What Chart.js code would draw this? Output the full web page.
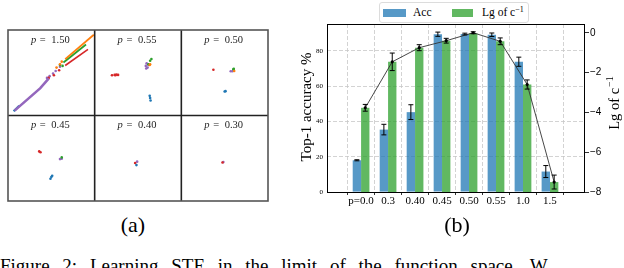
<!DOCTYPE html>
<html>
<head>
<meta charset="utf-8">
<script src="https://cdn.jsdelivr.net/npm/chart.js@4.4.0/dist/chart.umd.min.js"></script>
<style>
  body { margin: 0; width: 624px; height: 268px; overflow: hidden; position: relative; background: #fff; font-family: "Liberation Serif", serif; color: #000; }
  #scatterWrap { position: absolute; left: 4px; top: 26px; width: 268px; height: 179px; }
  #barWrap { position: absolute; left: 300px; top: 0; width: 324px; height: 215px; }
  .sub { position: absolute; top: 214px; font-size: 22px; line-height: 22px; width: 60px; text-align: center; }
  #legend { position: absolute; left: 379px; top: 2px; width: 148px; height: 19px; border: 1px solid #dcdcdc; border-radius: 3px; background: #fff; font-size: 11.5px; }
  #legend .sw { position: absolute; top: 6px; height: 8px; }
  #legend .tx { position: absolute; top: 2px; line-height: 14px; }
  #legend sup { font-size: 8px; vertical-align: 4px; line-height: 0; }
  #caption { position: absolute; left: 0; top: 256px; font-size: 19px; line-height: 19px; white-space: nowrap; word-spacing: 8px; }
</style>
</head>
<body>
<div id="scatterWrap"><canvas id="scatterChart"></canvas></div>
<div id="barWrap"><canvas id="accChart"></canvas></div>
<div id="legend">
  <span class="sw" style="left:3px;width:23px;background:rgba(31,119,180,0.75)"></span>
  <span class="tx" style="left:33px">Acc</span>
  <span class="sw" style="left:72px;width:21px;background:rgba(44,160,44,0.75)"></span>
  <span class="tx" style="left:102px">Lg of c<sup>&minus;1</sup></span>
</div>
<div class="sub" style="left:103px">(a)</div>
<div class="sub" style="left:427px">(b)</div>
<div id="caption">Figure 2: Learning STE in the limit of the function space. W</div>

<script>
// --- panel (a): six small scatter cells, [cell, x, y] with x,y inside the cell (0..1) ---
const pLabels = ["1.50", "0.55", "0.50", "0.45", "0.40", "0.30"];

const bluePts = [[1, 0.635, 0.23], [1, 0.64, 0.205], [1, 0.645, 0.175], [2, 0.50, 0.28], [2, 0.51, 0.285],
  [3, 0.49, 0.26], [3, 0.50, 0.28], [3, 0.51, 0.295], [4, 0.482, 0.42]];
const orangePts = [[0, 0.60, 0.60], [0, 0.56, 0.56], [0, 0.62, 0.63], [1, 0.635, 0.59], [1, 0.64, 0.60], [2, 0.61, 0.52]];
const greenPts = [[0, 0.63, 0.58], [0, 0.60, 0.59], [1, 0.62, 0.60], [1, 0.64, 0.64], [1, 0.655, 0.66],
  [2, 0.60, 0.54], [2, 0.605, 0.545], [3, 0.62, 0.51]];
const redPts = [[0, 0.53, 0.47], [0, 0.59, 0.53], [0, 0.47, 0.44], [1, 0.20, 0.47], [1, 0.23, 0.475], [1, 0.25, 0.48],
  [1, 0.27, 0.475], [1, 0.24, 0.47], [2, 0.37, 0.535], [3, 0.36, 0.58], [3, 0.375, 0.57], [4, 0.467, 0.445], [5, 0.475, 0.45]];
const purplePts = [[0, 0.48, 0.46], [0, 0.52, 0.49], [0, 0.55, 0.52], [0, 0.60, 0.57], [0, 0.45, 0.44],
  [1, 0.59, 0.58], [1, 0.60, 0.61], [1, 0.61, 0.56], [1, 0.62, 0.59], [1, 0.595, 0.55],
  [2, 0.57, 0.517], [2, 0.59, 0.517], [3, 0.60, 0.49], [3, 0.62, 0.495], [4, 0.49, 0.46], [5, 0.485, 0.455]];

// trails in the p = 1.50 cell
const purpleTrail = [[0.076, 0.057], [0.373, 0.32], [0.471, 0.434]];
const blueTrail = [[0.065, 0.05], [0.13, 0.115]];
const orangeTrail = [[0.66, 0.66], [0.99, 0.945]];
const greenTrail = [[0.64, 0.62], [0.90, 0.83]];
const redTrail = [[0.66, 0.585], [0.923, 0.774]];

// --- panel (b): accuracy bars and Lg of c^-1 ---
const categories = ["p=0.0", "0.3", "0.40", "0.45", "0.50", "0.55", "1.0", "1.5"];
const accMean = [18.0, 35.4, 45.3, 89.5, 89.6, 89.2, 73.9, 11.6];
const accErr = [0.3, 3.0, 4.2, 1.2, 0.5, 1.0, 2.6, 3.4];
const lgMean = [-3.77, -1.46, -0.75, -0.40, 0.0, -0.43, -2.60, -7.5];
const lgErr = [0.17, 0.44, 0.15, 0.12, 0.05, 0.17, 0.23, 0.35];
const accTicks = [0, 20, 40, 60, 80];
const lgTicks = [-8, -6, -4, -2, 0];

const tab = {
  blue: '#1f77b4', orange: '#ff7f0e', green: '#2ca02c', red: '#d62728', purple: '#9467bd'
};

function cellXY(cell, nx, ny) {
  return { x: (cell % 3) + nx, y: 1 - Math.floor(cell / 3) + ny };
}

function dotSet(pts, color) {
  return {
    data: pts.map(p => cellXY(p[0], p[1], p[2])),
    backgroundColor: color,
    borderWidth: 0,
    pointRadius: 1.3
  };
}

function trailSet(pts, color, width) {
  return {
    data: pts.map(p => cellXY(0, p[0], p[1])),
    borderColor: color,
    borderWidth: width,
    showLine: true,
    pointRadius: 0
  };
}

const cellFrame = {
  id: 'cellFrame',
  afterDraw(chart) {
    const { ctx, scales: { x, y } } = chart;
    ctx.save();
    ctx.lineWidth = 1.6;
    ctx.strokeStyle = '#222';
    ctx.beginPath();
    [1, 2].forEach(v => { ctx.moveTo(x.getPixelForValue(v), y.getPixelForValue(0)); ctx.lineTo(x.getPixelForValue(v), y.getPixelForValue(2)); });
    ctx.moveTo(x.getPixelForValue(0), y.getPixelForValue(1));
    ctx.lineTo(x.getPixelForValue(3), y.getPixelForValue(1));
    ctx.stroke();
    ctx.strokeStyle = '#555';
    ctx.strokeRect(x.getPixelForValue(0), y.getPixelForValue(2),
      x.getPixelForValue(3) - x.getPixelForValue(0), y.getPixelForValue(0) - y.getPixelForValue(2));

    // cell titles "p = ..."
    ctx.fillStyle = '#222';
    ctx.textBaseline = 'alphabetic';
    pLabels.forEach((lab, k) => {
      const col = k % 3, row = Math.floor(k / 3);
      const cx = x.getPixelForValue(col + 0.5) - 1;
      const by = y.getPixelForValue(2 - row) + 12.5;
      const rest = ' = ' + lab;
      ctx.font = 'italic 10.5px "Liberation Serif"';
      const w1 = ctx.measureText('p').width;
      ctx.font = '10.5px "Liberation Serif"';
      const w2 = ctx.measureText(rest).width + 4;
      const x0 = cx - (w1 + w2) / 2;
      ctx.font = 'italic 10.5px "Liberation Serif"';
      ctx.fillText('p', x0, by);
      ctx.font = '10.5px "Liberation Serif"';
      ctx.fillText(' =', x0 + w1 + 1, by);
      ctx.fillText(lab, x0 + w1 + 4 + ctx.measureText(' = ').width, by);
    });
    ctx.restore();
  }
};

new Chart(document.getElementById('scatterChart'), {
  type: 'scatter',
  data: {
    datasets: [
      trailSet(purpleTrail, tab.purple, 2.6),
      trailSet(blueTrail, tab.blue, 2.2),
      trailSet(orangeTrail, tab.orange, 1.8),
      trailSet(greenTrail, tab.green, 1.8),
      trailSet(redTrail, tab.red, 1.6),
      dotSet(bluePts, tab.blue),
      dotSet(orangePts, tab.orange),
      dotSet(greenPts, tab.green),
      dotSet(redPts, tab.red),
      dotSet(purplePts, tab.purple)
    ]
  },
  options: {
    responsive: true,
    maintainAspectRatio: false,
    animation: false,
    events: [],
    layout: { padding: 1 },
    plugins: { legend: { display: false }, tooltip: { enabled: false } },
    scales: {
      x: { type: 'linear', min: 0, max: 3, display: false },
      y: { type: 'linear', min: 0, max: 2, display: false }
    }
  },
  plugins: [cellFrame]
});

// --- bar chart ---
const groupFrac = 0.62;
const lineShift = groupFrac / 4;

const errorBars = {
  id: 'errorBars',
  afterDatasetsDraw(chart) {
    const ctx = chart.ctx;
    ctx.save();
    ctx.strokeStyle = '#000';
    ctx.lineWidth = 1;
    [[0, 'y', accMean, accErr], [1, 'y2', lgMean, lgErr]].forEach(([di, axis, means, errs]) => {
      const sc = chart.scales[axis];
      chart.getDatasetMeta(di).data.forEach((bar, i) => {
        const x = bar.x;
        const lo = sc.getPixelForValue(means[i] - errs[i]);
        const hi = sc.getPixelForValue(means[i] + errs[i]);
        ctx.beginPath();
        ctx.moveTo(x, lo); ctx.lineTo(x, hi);
        ctx.moveTo(x - 2.5, lo); ctx.lineTo(x + 2.5, lo);
        ctx.moveTo(x - 2.5, hi); ctx.lineTo(x + 2.5, hi);
        ctx.stroke();
      });
    });
    ctx.restore();
  }
};

const frameAndTitles = {
  id: 'frameAndTitles',
  afterDraw(chart) {
    const { ctx, chartArea: a } = chart;
    ctx.save();
    ctx.strokeStyle = '#000';
    ctx.lineWidth = 1;
    ctx.strokeRect(a.left + 0.5, a.top + 0.5, a.right - a.left - 1, a.bottom - a.top);

    ctx.fillStyle = '#000';
    ctx.textBaseline = 'alphabetic';
    // left title
    ctx.save();
    ctx.translate(11, (a.top + a.bottom) / 2 - 1);
    ctx.rotate(-Math.PI / 2);
    ctx.font = '15px "Liberation Serif"';
    ctx.textAlign = 'center';
    ctx.fillText('Top-1 accuracy %', 0, 0);
    ctx.restore();
    // right title with superscript
    ctx.save();
    ctx.translate(318.5, (a.top + a.bottom) / 2 - 5);
    ctx.rotate(-Math.PI / 2);
    ctx.font = '14.5px "Liberation Serif"';
    const main = 'Lg of c';
    const wm = ctx.measureText(main).width;
    ctx.font = '10px "Liberation Serif"';
    const sup = '\u22121';
    const ws = ctx.measureText(sup).width;
    const x0 = -(wm + ws + 1) / 2;
    ctx.font = '14.5px "Liberation Serif"';
    ctx.fillText(main, x0, 0);
    ctx.font = '10px "Liberation Serif"';
    ctx.fillText(sup, x0 + wm + 1, -5.5);
    ctx.restore();
    ctx.restore();
  }
};

const gridStyle = { color: '#c8c8c8', lineWidth: 0.8 };

new Chart(document.getElementById('accChart'), {
  type: 'bar',
  data: {
    datasets: [
      {
        label: 'Acc',
        data: accMean.map((v, i) => ({ x: i, y: v })),
        backgroundColor: 'rgba(31,119,180,0.75)',
        yAxisID: 'y',
        order: 1
      },
      {
        label: 'Lg of c\u207b\u00b9',
        data: lgMean.map((v, i) => ({ x: i, y: [lgTicks[0], v] })),
        backgroundColor: 'rgba(44,160,44,0.75)',
        yAxisID: 'y2',
        order: 2
      },
      {
        type: 'line',
        data: lgMean.map((v, i) => ({ x: i + lineShift, y: v })),
        borderColor: '#333',
        borderWidth: 0.9,
        pointRadius: 1.6,
        pointBackgroundColor: '#000',
        pointBorderWidth: 0,
        yAxisID: 'y2',
        order: 0
      }
    ]
  },
  options: {
    responsive: true,
    maintainAspectRatio: false,
    animation: false,
    events: [],
    categoryPercentage: groupFrac,
    barPercentage: 1.0,
    layout: { padding: { top: 24 } },
    plugins: { legend: { display: false }, tooltip: { enabled: false } },
    scales: {
      x: {
        type: 'linear',
        min: -0.665,
        max: 7.70,
        afterBuildTicks: s => { s.ticks = categories.map((c, i) => ({ value: i })); },
        afterFit: s => { s.height = 23; },
        ticks: {
          callback: v => categories[Math.round(v)],
          font: { family: 'Liberation Serif', size: 11 },
          color: '#000',
          padding: 0,
          maxRotation: 0,
          autoSkip: false
        },
        grid: { ...gridStyle, drawTicks: true, tickLength: 3, tickColor: '#000', tickWidth: 0.8 },
        border: { display: false, dash: [4, 2] }
      },
      y: {
        position: 'left',
        min: 0,
        max: 95.3,
        afterBuildTicks: s => { s.ticks = accTicks.map(v => ({ value: v })); },
        afterFit: s => { s.width = 27; },
        ticks: { font: { family: 'Liberation Serif', size: 7 }, color: '#000', padding: 4 },
        grid: { ...gridStyle, drawTicks: false },
        border: { display: false, dash: [4, 2] }
      },
      y2: {
        position: 'right',
        min: -8,
        max: 0.44,
        afterBuildTicks: s => { s.ticks = lgTicks.map(v => ({ value: v })); },
        afterFit: s => { s.width = 39; },
        ticks: {
          font: { family: 'Liberation Sans', size: 10 },
          color: '#000',
          padding: 1,
          callback: v => (v < 0 ? '\u2212' : '') + Math.abs(v)
        },
        grid: { drawOnChartArea: false, drawTicks: true, tickLength: 4, color: '#000', lineWidth: 0.8 },
        border: { display: false }
      }
    }
  },
  plugins: [errorBars, frameAndTitles]
});
</script>
</body>
</html>
